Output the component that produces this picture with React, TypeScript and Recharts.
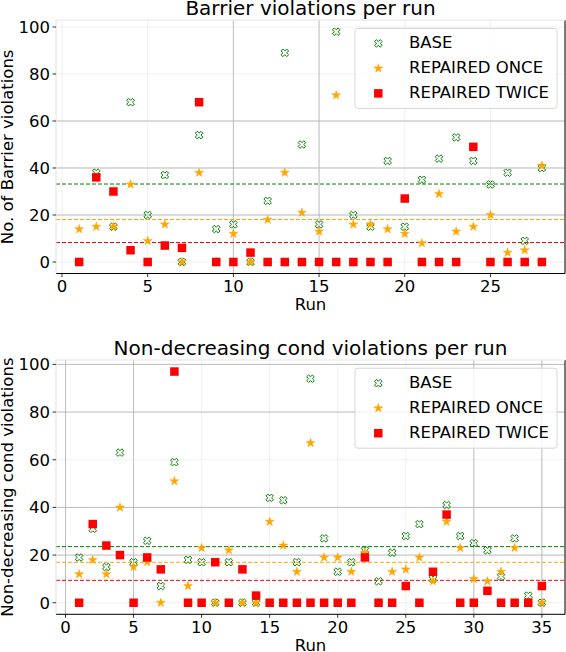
import { ScatterChart, Scatter, XAxis, YAxis, CartesianGrid, ReferenceLine } from 'recharts';

// Barrier violations per run (runs 1..28)
const barrierBase = [0, 38, 15, 68, 20, 37, 0, 54, 14, 16, 0, 26, 89, 50, 16, 98, 20, 15, 43, 15, 35, 44, 53, 43, 33, 38, 9, 40];
const barrierOnce = [14, 15, 15, 33, 9, 16, 0, 38, 0, 12, 0, 18, 38, 21, 13, 71, 16, 16, 14, 12, 8, 29, 13, 15, 20, 4, 5, 41];
const barrierTwice = [0, 36, 30, 5, 0, 7, 6, 68, 0, 0, 4, 0, 0, 0, 0, 0, 0, 0, 0, 27, 0, 0, 0, 49, 0, 0, 0, 0];

// Non-decreasing cond violations per run (runs 1..35)
const condBase = [19, 31, 15, 63, 17, 26, 7, 59, 18, 17, 0, 17, 0, 0, 44, 43, 17, 94, 27, 13, 17, 22, 9, 21, 28, 33, 10, 41, 28, 25, 22, 11, 27, 3, 0];
const condOnce = [12, 18, 12, 40, 15, 17, 0, 51, 7, 23, 0, 22, 0, 0, 34, 24, 13, 67, 19, 19, 13, 21, 0, 13, 14, 19, 9, 34, 23, 10, 9, 13, 23, 0, 0];
const condTwice = [0, 33, 24, 20, 0, 19, 14, 97, 0, 0, 17, 0, 14, 3, 0, 0, 0, 0, 0, 0, 0, 19, 0, 0, 7, 0, 13, 37, 0, 0, 5, 0, 0, 0, 7];

const seriesNames = ['BASE', 'REPAIRED ONCE', 'REPAIRED TWICE'];
const barrierXTicks = [0, 5, 10, 15, 20, 25];
const condXTicks = [0, 5, 10, 15, 20, 25, 30, 35];
const yTicks = [0, 20, 40, 60, 80, 100];

const GREEN = '#008000';
const ORANGE = '#ffa500';
const RED = '#ff0000';
const FONT = '"DejaVu Sans", Verdana, sans-serif';

const W = 566;
const H = 326;

const toPoints = (vals: number[]) => vals.map((v, i) => ({ x: i + 1, y: v }));
const mean = (vals: number[]) => vals.reduce((a, b) => a + b, 0) / vals.length;

function XMark({ cx, cy }: { cx: number; cy: number }) {
  const s = 1.9;
  const pts = [[-1, -2], [0, -1], [1, -2], [2, -1], [1, 0], [2, 1], [1, 2], [0, 1], [-1, 2], [-2, 1], [-1, 0], [-2, -1]];
  const d = pts.map(([x, y], i) => `${i ? 'L' : 'M'}${cx + x * s},${cy + y * s}`).join('') + 'Z';
  return <path d={d} fill="none" stroke={GREEN} strokeWidth={1} />;
}

function StarMark({ cx, cy }: { cx: number; cy: number }) {
  const r = 4.7;
  let d = '';
  for (let k = 0; k < 10; k++) {
    const a = ((-90 + 36 * k) * Math.PI) / 180;
    const rr = k % 2 === 0 ? r : r * 0.382;
    d += `${k ? 'L' : 'M'}${cx + rr * Math.cos(a)},${cy + rr * Math.sin(a)}`;
  }
  return <path d={d + 'Z'} fill={ORANGE} stroke={ORANGE} strokeWidth={0.5} />;
}

function SquareMark({ cx, cy }: { cx: number; cy: number }) {
  const s = 8.5;
  return <rect x={cx - s / 2} y={cy - s / 2} width={s} height={s} fill={RED} />;
}

const markers = [XMark, StarMark, SquareMark];

interface PanelProps {
  top: number;
  title: string;
  titleY: number;
  yLabel: string;
  runY: number;
  plotTop: number;
  plotBottom: number;
  base: number[];
  once: number[];
  twice: number[];
  xDomain: [number, number];
  yDomain: [number, number];
  xTicks: number[];
  darkX: number[];
  darkY: number[];
}

function Panel(p: PanelProps) {
  const margin = { top: p.plotTop, right: 1, left: 0, bottom: H - p.plotBottom - 30 };
  const plotLeft = 56;
  const plotRight = W - 1;
  const midX = (plotLeft + plotRight) / 2;
  const midY = (p.plotTop + p.plotBottom) / 2;
  const legendLeft = 355;
  const legendTop = p.plotTop + 8.2;
  const tickStyle = { fontSize: 16.5, fill: '#000', fontFamily: FONT };

  return (
    <div style={{ position: 'absolute', left: 0, top: p.top, width: W, height: H }}>
      <ScatterChart width={W} height={H} margin={margin}>
        <CartesianGrid stroke="#ececec" strokeWidth={0.8} />
        <CartesianGrid stroke="#b0b0b0" strokeWidth={0.8} horizontalValues={p.darkY} verticalValues={p.darkX} />
        <XAxis
          type="number"
          dataKey="x"
          domain={p.xDomain}
          ticks={p.xTicks}
          allowDataOverflow
          height={30}
          tickSize={3.5}
          tickMargin={3}
          tick={tickStyle}
          axisLine={{ stroke: '#000', strokeWidth: 1 }}
          tickLine={{ stroke: '#000', strokeWidth: 0.8 }}
        />
        <YAxis
          type="number"
          dataKey="y"
          domain={p.yDomain}
          ticks={yTicks}
          allowDataOverflow
          width={56}
          tickSize={3.5}
          tickMargin={2.5}
          tick={tickStyle}
          axisLine={{ stroke: '#e8e8e8', strokeWidth: 1 }}
          tickLine={{ stroke: '#000', strokeWidth: 0.8 }}
        />
        <ReferenceLine x={p.xDomain[1]} stroke="#000" strokeWidth={1} />
        <ReferenceLine y={p.yDomain[1]} stroke="#ececec" strokeWidth={1} />
        <ReferenceLine y={mean(p.base)} stroke={GREEN} strokeDasharray="4 2" strokeWidth={1} />
        <ReferenceLine y={mean(p.once)} stroke={ORANGE} strokeDasharray="4 2" strokeWidth={1} />
        <ReferenceLine y={mean(p.twice)} stroke={RED} strokeDasharray="4 2" strokeWidth={1} />
        <Scatter
          name={seriesNames[0]}
          data={toPoints(p.base)}
          isAnimationActive={false}
          shape={(s: any) => <XMark cx={s.cx} cy={s.cy} />}
        />
        <Scatter
          name={seriesNames[1]}
          data={toPoints(p.once)}
          isAnimationActive={false}
          shape={(s: any) => <StarMark cx={s.cx} cy={s.cy} />}
        />
        <Scatter
          name={seriesNames[2]}
          data={toPoints(p.twice)}
          isAnimationActive={false}
          shape={(s: any) => <SquareMark cx={s.cx} cy={s.cy} />}
        />
      </ScatterChart>
      <svg
        width={W}
        height={H}
        style={{ position: 'absolute', left: 0, top: 0, pointerEvents: 'none', fontFamily: FONT }}
      >
        <text x={midX} y={p.titleY} textAnchor="middle" fontSize={20} fill="#000">
          {p.title}
        </text>
        <text x={midX} y={p.runY} textAnchor="middle" fontSize={16.5} fill="#000">
          Run
        </text>
        <text
          x={13.3}
          y={midY}
          textAnchor="middle"
          fontSize={16.5}
          fill="#000"
          transform={`rotate(-90 13.3 ${midY})`}
        >
          {p.yLabel}
        </text>
        <rect
          x={legendLeft}
          y={legendTop}
          width={202}
          height={80}
          rx={3}
          fill="#fff"
          fillOpacity={0.8}
          stroke="#d6d6d6"
          strokeWidth={1}
        />
        {seriesNames.map((name, i) => {
          const Mark = markers[i];
          return (
            <g key={name}>
              <Mark cx={legendLeft + 23.3} cy={legendTop + 15 + i * 25} />
              <text x={legendLeft + 54} y={legendTop + 20 + i * 25} fontSize={16.5} fill="#000">
                {name}
              </text>
            </g>
          );
        })}
      </svg>
    </div>
  );
}

export default function App() {
  return (
    <div style={{ position: 'absolute', left: 0, top: 0, width: W, height: 652, background: '#fff' }}>
      <Panel
        top={0}
        title="Barrier violations per run"
        titleY={15.3}
        yLabel="No. of Barrier violations"
        runY={310}
        plotTop={20.2}
        plotBottom={273.5}
        base={barrierBase}
        once={barrierOnce}
        twice={barrierTwice}
        xDomain={[-0.35, 29.35]}
        yDomain={[-4.9, 102.9]}
        xTicks={barrierXTicks}
        darkX={[10, 15]}
        darkY={[20, 40, 60]}
      />
      <Panel
        top={H}
        title="Non-decreasing cond violations per run"
        titleY={29}
        yLabel="Non-decreasing cond violations"
        runY={324.5}
        plotTop={34}
        plotBottom={288.3}
        base={condBase}
        once={condOnce}
        twice={condTwice}
        xDomain={[-0.7, 36.7]}
        yDomain={[-4.85, 101.85]}
        xTicks={condXTicks}
        darkX={[0, 5, 30, 35]}
        darkY={[20, 40, 80, 100]}
      />
    </div>
  );
}
